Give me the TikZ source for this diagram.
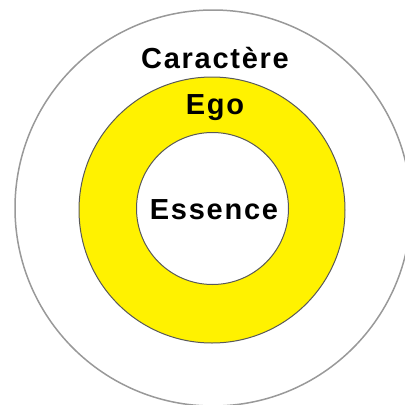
\documentclass[tikz,border=0pt]{standalone}
\usepackage{fontspec}
\setmainfont{Liberation Sans}
\begin{document}
\begin{tikzpicture}[x=1pt, y=-1pt, thick]
\tikzset{label/.style={font=\fontsize{29}{32}\selectfont\bfseries\addfontfeature{LetterSpace=6}, text=black, inner sep=0pt}}
\useasboundingbox (0,0) rectangle (405,405);
\clip (0,0) rectangle (405,405);
\draw[gray!80, line width=1.5pt] (213,208) circle (198);
\fill[yellow, even odd rule] (212,210) circle (133) (212.5,208.5) circle (76);
\draw[black!65, line width=1pt] (212,210) circle (133);
\draw[black!65, line width=1pt] (212.5,208.5) circle (76);
\node[label] (caractere) at (215,58) {Caractère};
\node[label] (ego) at (215,108) {Ego};
\node[label] (essence) at (214,210) {Essence};
\end{tikzpicture}
\end{document}
